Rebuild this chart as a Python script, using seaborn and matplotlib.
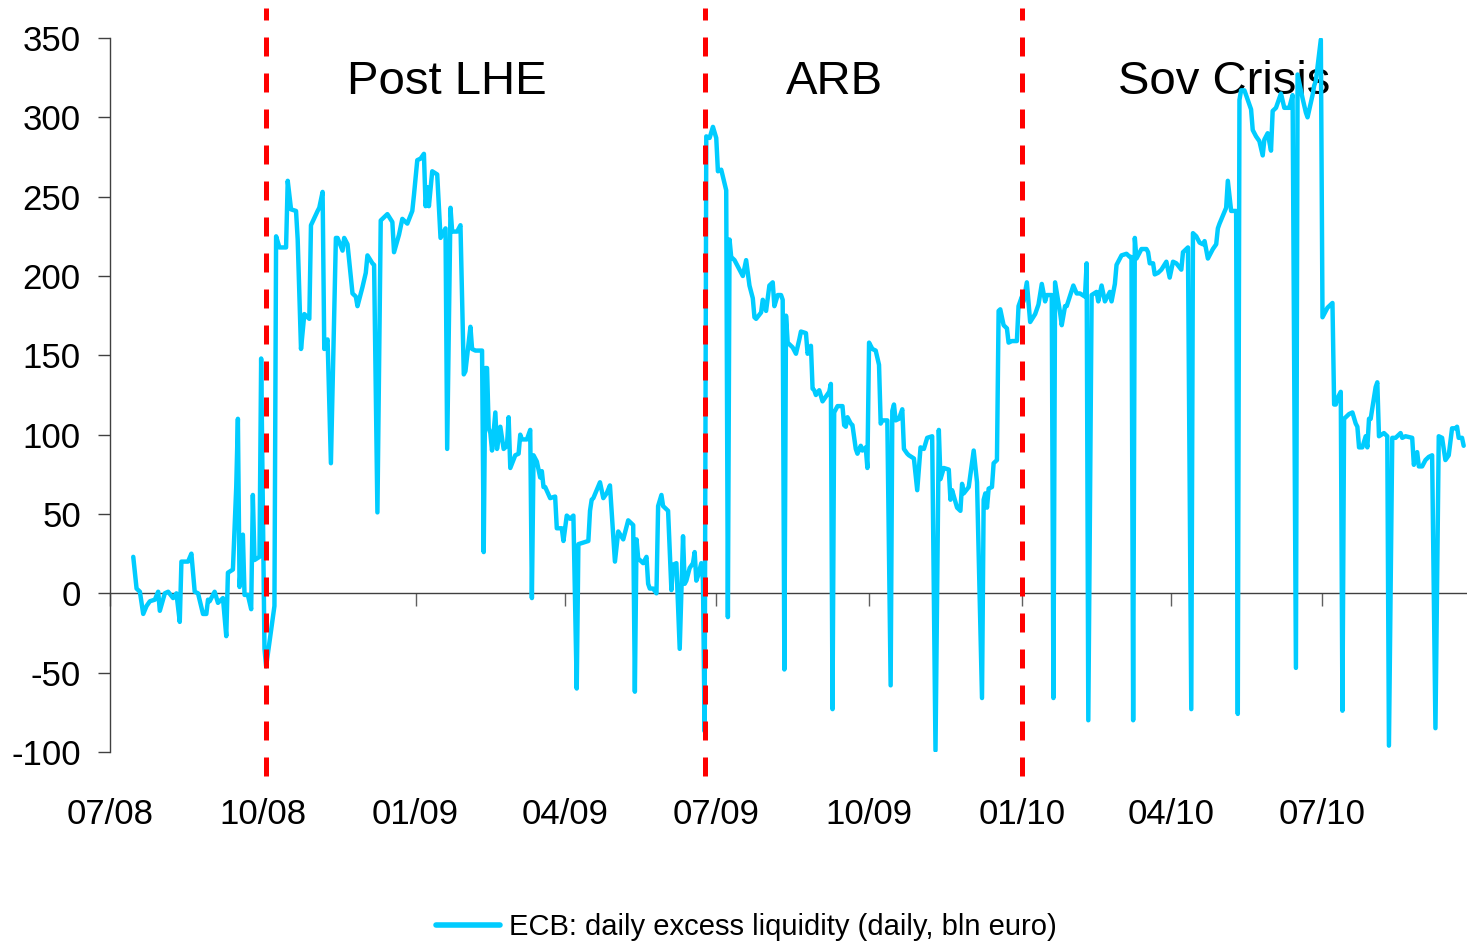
import matplotlib
matplotlib.use("Agg")
import matplotlib.pyplot as plt
import matplotlib.dates as mdates
import pandas as pd
import seaborn as sns

# ECB daily excess liquidity, bln euro (month-day per year, with values)
days_2008 = [
    "07-15", "07-17", "07-19", "07-21", "07-23", "07-25", "07-28", "07-30", "07-31",
    "08-03", "08-05", "08-08", "08-10", "08-12", "08-13", "08-17", "08-19", "08-21",
    "08-23", "08-26", "08-28", "08-29", "08-30",
    "09-02", "09-04", "09-07", "09-09", "09-10", "09-13", "09-15", "09-16", "09-17",
    "09-19", "09-20", "09-22", "09-24", "09-25", "09-26", "09-29", "09-30",
    "10-02", "10-03", "10-08", "10-09", "10-11", "10-15", "10-16", "10-18", "10-21",
    "10-22", "10-24", "10-26", "10-29", "10-30",
    "11-03", "11-04", "11-06", "11-07", "11-09", "11-11", "11-14", "11-15", "11-18",
    "11-19", "11-21", "11-24", "11-26", "11-27", "11-30",
    "12-02", "12-03", "12-06", "12-07", "12-09", "12-11", "12-15", "12-18", "12-19",
    "12-22", "12-24", "12-27", "12-30", "12-31",
]
values_2008 = [
    23, 3, 1, -13, -8, -5, -4, 1, -11,
    0, 1, -3, 0, -18, 20, 20, 25, 1,
    0, -13, -13, -4, -5,
    1, -6, -3, -27, 13, 15, 67, 110, 4,
    37, -1, -1, -10, 62, 21, 23, 148,
    -35, -46, -8, 225, 218, 218, 260, 242, 241,
    223, 154, 176, 173, 232,
    241, 243, 253, 154, 160, 82, 224, 224, 216,
    224, 220, 189, 187, 181, 193,
    202, 213, 208, 207, 51, 235, 239, 234, 215,
    226, 236, 233, 241, 251,
]

days_2009 = [
    "01-02", "01-04", "01-06", "01-07", "01-08", "01-09", "01-11", "01-14", "01-16",
    "01-19", "01-20", "01-22", "01-23", "01-26", "01-28", "01-30", "01-31",
    "02-03", "02-04", "02-06", "02-10", "02-11", "02-12", "02-13", "02-14", "02-15",
    "02-16", "02-18", "02-19", "02-21", "02-23", "02-25", "02-26", "02-27",
    "03-02", "03-04", "03-05", "03-06", "03-09", "03-11", "03-12", "03-13", "03-15",
    "03-17", "03-18", "03-19", "03-20", "03-23", "03-26", "03-27", "03-30", "03-31",
    "04-02", "04-04", "04-06", "04-08", "04-09", "04-12", "04-15", "04-16", "04-17",
    "04-18", "04-20", "04-22", "04-24", "04-26", "04-28",
    "05-01", "05-03", "05-06", "05-07", "05-09", "05-12", "05-13", "05-14", "05-15",
    "05-18", "05-20", "05-21", "05-22", "05-24", "05-26", "05-27", "05-29", "05-30",
    "06-02", "06-04", "06-05", "06-07", "06-09", "06-11", "06-12", "06-13", "06-15",
    "06-17", "06-18", "06-19", "06-20", "06-22", "06-23", "06-24", "06-25", "06-27",
    "06-29",
    "07-01", "07-02", "07-04", "07-07", "07-08", "07-09", "07-10", "07-12", "07-17",
    "07-19", "07-21", "07-23", "07-24", "07-25", "07-28", "07-29", "07-31",
    "08-02", "08-04", "08-05", "08-07", "08-09", "08-10", "08-11", "08-12", "08-13",
    "08-16", "08-18", "08-20", "08-21", "08-24", "08-25", "08-27", "08-28", "08-29",
    "08-30",
    "09-01", "09-03", "09-05", "09-07", "09-08", "09-09", "09-10", "09-12", "09-15",
    "09-16", "09-17", "09-18", "09-20", "09-21", "09-23", "09-24", "09-26", "09-27",
    "09-29", "09-30",
    "10-01", "10-03", "10-05", "10-07", "10-08", "10-09", "10-12", "10-14", "10-15",
    "10-16", "10-17", "10-19", "10-21", "10-22", "10-24", "10-25", "10-28", "10-30",
    "11-01", "11-03", "11-05", "11-08", "11-10", "11-12", "11-13", "11-15", "11-18",
    "11-19", "11-20", "11-23", "11-25", "11-26", "11-27", "11-30",
    "12-03", "12-05", "12-08", "12-09", "12-10", "12-11", "12-12", "12-14", "12-15",
    "12-17", "12-18", "12-19", "12-21", "12-23", "12-24", "12-26", "12-29", "12-30",
]
values_2009 = [
    273, 274, 277, 244, 256, 244, 266, 264, 224,
    230, 91, 243, 228, 228, 232, 138, 140,
    168, 154, 153, 153, 26, 142, 142, 104, 101,
    90, 114, 91, 105, 91, 93, 111, 79,
    87, 88, 100, 97, 97, 103, -3, 87, 83,
    73, 77, 67, 67, 60, 61, 41, 41, 33,
    49, 47, 49, -60, 31, 32, 33, 52, 59,
    60, 65, 70, 60, 63, 68,
    20, 39, 34, 38, 46, 43, -62, 34, 22,
    19, 23, 6, 3, 3, 0, 55, 62, 55,
    52, 2, 18, 19, -35, 36, 6, 8, 16,
    19, 26, 8, 11, 19, 8, -87, 288, 287,
    294,
    287, 266, 267, 254, -15, 223, 212, 210, 200,
    210, 194, 186, 174, 173, 177, 185, 178,
    194, 196, 181, 188, 188, 185, -48, 175, 158,
    155, 151, 160, 165, 164, 151, 156, 129, 128,
    125,
    128, 121, 124, 127, 132, -73, 114, 118, 118,
    106, 105, 111, 107, 106, 91, 88, 93, 90,
    92, 79,
    158, 154, 153, 144, 107, 109, 109, -58, 115,
    119, 109, 110, 116, 91, 88, 87, 85, 65,
    92, 91, 98, 99, -99, 103, 72, 79, 78,
    59, 65, 54, 52, 69, 63, 67,
    90, 70, -66, 59, 63, 54, 66, 67, 82,
    84, 178, 179, 169, 167, 158, 159, 159, 181,
]

days_2010 = [
    "01-01", "01-02", "01-04", "01-06", "01-09", "01-11", "01-13", "01-15", "01-16",
    "01-19", "01-20", "01-21", "01-24", "01-25", "01-27", "01-28",
    "02-01", "02-03", "02-05", "02-08", "02-09", "02-10", "02-12", "02-15", "02-16",
    "02-18", "02-20", "02-23", "02-24", "02-26", "02-27",
    "03-02", "03-05", "03-07", "03-08", "03-09", "03-10", "03-11", "03-14", "03-17",
    "03-18", "03-19", "03-21", "03-22", "03-24", "03-26", "03-29", "03-31",
    "04-02", "04-04", "04-07", "04-08", "04-10", "04-11", "04-13", "04-14", "04-16",
    "04-18", "04-20", "04-21", "04-23", "04-26", "04-28", "04-29", "04-30",
    "05-02", "05-04", "05-05", "05-07", "05-10", "05-11", "05-12", "05-13", "05-15",
    "05-17", "05-19", "05-20", "05-22", "05-24", "05-26", "05-27", "05-29", "05-31",
    "06-01", "06-03", "06-04", "06-06", "06-08", "06-11", "06-13", "06-15", "06-16",
    "06-19", "06-21", "06-22", "06-25", "06-26", "06-27", "06-30",
    "07-01", "07-03", "07-04", "07-07", "07-08", "07-09", "07-10", "07-12", "07-13",
    "07-14", "07-17", "07-19", "07-21", "07-22", "07-23", "07-25", "07-27", "07-28",
    "07-29", "07-30",
    "08-02", "08-03", "08-04", "08-07", "08-09", "08-10", "08-12", "08-14", "08-17",
    "08-18", "08-20", "08-24", "08-25", "08-27", "08-28", "08-30",
    "09-01", "09-03", "09-05", "09-07", "09-09", "09-11", "09-13", "09-15", "09-17",
    "09-19", "09-20", "09-21", "09-23", "09-24",
]
values_2010 = [
    187, 184, 196, 171, 176, 182, 195, 184, 188,
    188, -66, 196, 177, 169, 181, 181,
    194, 189, 189, 187, 208, -80, 188, 190, 184,
    194, 184, 190, 184, 195, 207,
    213, 214, 212, 212, -80, 224, 211, 217, 217,
    215, 208, 208, 201, 202, 204, 209, 199,
    209, 208, 204, 215, 217, 218, -73, 227, 225,
    221, 220, 222, 211, 217, 220, 230, 233,
    238, 243, 260, 241, 241, -76, 311, 317, 317,
    311, 305, 292, 288, 285, 276, 286, 290, 279,
    304, 306, 309, 315, 306, 306, 314, -47, 327,
    312, 303, 300, 314, 320, 323, 349,
    174, 178, 180, 183, 119, 119, 123, 127, -74,
    110, 113, 114, 107, 105, 92, 92, 99, 92,
    110, 110,
    130, 133, 99, 101, 99, -96, 98, 98, 101,
    98, 99, 98, 81, 89, 80, 80,
    84, 86, 87, -85, 99, 98, 84, 87, 104,
    104, 105, 98, 98, 93,
]

# Regime boundaries and their captions
event_dates = ["2008-10-03", "2009-06-24", "2010-01-01"]
phase_labels = ["Post LHE", "ARB", "Sov Crisis"]
phase_label_dates = ["2009-01-20", "2009-09-10", "2010-05-03"]

y_ticks = list(range(-100, 351, 50))
x_tick_dates = pd.date_range("2008-07-01", "2010-07-01", freq="QS")
series_label = "ECB: daily excess liquidity (daily, bln euro)"

dates = ([f"2008-{d}" for d in days_2008] + [f"2009-{d}" for d in days_2009]
         + [f"2010-{d}" for d in days_2010])
values = values_2008 + values_2009 + values_2010
assert len(dates) == len(values)
df = pd.DataFrame({"date": pd.to_datetime(dates), "liquidity": values})

sns.set_theme(style="white")
plt.rcParams["font.family"] = ["Liberation Sans", "DejaVu Sans"]
plt.rcParams["axes.unicode_minus"] = False
plt.rcParams["text.color"] = "black"

W, H = 1467, 944
fig = plt.figure(figsize=(W / 100, H / 100), dpi=100)
ax = fig.add_axes([110 / W, 1 - 752 / H, 1 - 110 / W, (752 - 38) / H])

sns.lineplot(data=df, x="date", y="liquidity", estimator=None, sort=False,
             color="#00CCFF", lw=3.2, ax=ax, label=series_label, zorder=3)
for line in ax.get_lines():
    line.set_solid_joinstyle("round")
    line.set_solid_capstyle("round")

for d in event_dates:
    ax.axvline(pd.Timestamp(d), ymin=-0.034, ymax=1.042, clip_on=False,
               color="#FF0000", lw=3.6, dashes=(3.8, 3.4), zorder=4)

xform = ax.get_xaxis_transform()
for d, txt in zip(phase_label_dates, phase_labels):
    ax.text(pd.Timestamp(d), 0.939, txt, transform=xform, ha="center",
            va="center", fontsize=34, color="black", zorder=2)

ax.set_ylim(-100, 350)
ax.set_yticks(y_ticks)
ax.set_xlim(pd.Timestamp("2008-07-01"), pd.Timestamp("2010-09-26"))
ax.set_xticks(x_tick_dates)
ax.xaxis.set_major_formatter(mdates.DateFormatter("%m/%y"))
ax.set_xlabel("")
ax.set_ylabel("")

for side in ("top", "right"):
    ax.spines[side].set_visible(False)
ax.spines["left"].set_color("#404040")
ax.spines["left"].set_linewidth(1.0)
ax.spines["bottom"].set_position(("data", 0))
ax.spines["bottom"].set_color("#404040")
ax.spines["bottom"].set_linewidth(1.0)

ax.tick_params(axis="y", direction="out", length=9, width=1, color="#404040",
               pad=12, labelsize=25, labelcolor="black", left=True)
ax.tick_params(axis="x", direction="out", length=9, width=1, color="#606060",
               pad=138, labelsize=25, labelcolor="black", bottom=True)

ax.legend_.remove()
handles, labels = ax.get_legend_handles_labels()
leg = fig.legend(handles, labels, loc="center", bbox_to_anchor=(746 / W, 1 - 927 / H),
                 frameon=False, fontsize=21, handlelength=2.2, handletextpad=0.3,
                 labelcolor="black")
for h in leg.get_lines():
    h.set_solid_capstyle("round")
    h.set_linewidth(4)

fig.savefig("out.png", dpi=100, facecolor="white")
